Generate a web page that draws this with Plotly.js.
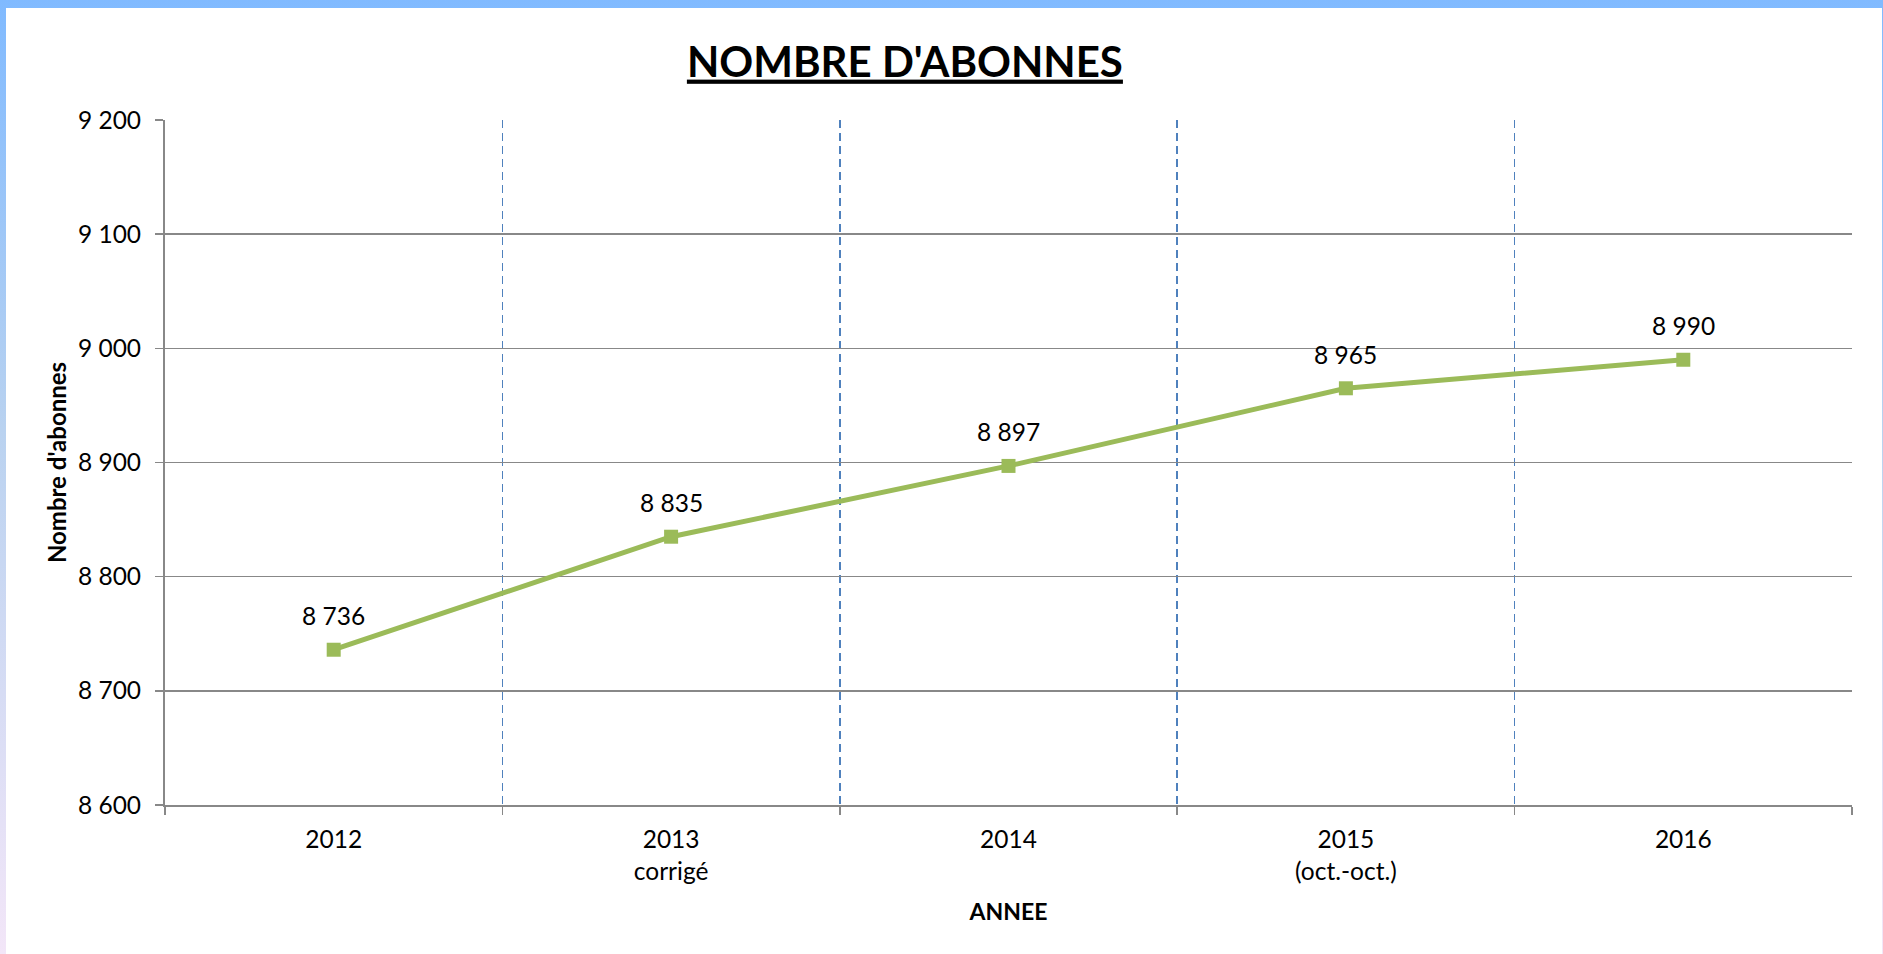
<!DOCTYPE html>
<html>
<head>
<meta charset="utf-8">
<script src="https://cdn.plot.ly/plotly-3.0.1.min.js"></script>
<style>
  html, body { margin: 0; padding: 0; width: 1883px; height: 954px; overflow: hidden;
    background: linear-gradient(to bottom, #80BAFF 0%, #B9D2F0 45%, #F3E6F8 100%); }
  #chart { position: absolute; left: 6px; top: 8px; width: 1876px; height: 946px; background: #fff; }
</style>
</head>
<body>
<div id="chart"></div>
<script>
const categories = ["2012", "2013<br>corrigé", "2014", "2015<br>(oct.-oct.)", "2016"];
const subscribers = [8736, 8835, 8897, 8965, 8990];
const yTickValues = [8600, 8700, 8800, 8900, 9000, 9100, 9200];

function fmt(v) { return String(v).replace(/\B(?=(\d{3})+(?!\d))/g, " "); }

const FONT = "Lato, 'Open Sans', sans-serif";
const TS = 24.5;

const trace = {
  type: "scatter",
  mode: "lines+markers",
  x: categories,
  y: subscribers,
  line: { color: "#9BBB59", width: 5 },
  marker: { symbol: "square", size: 14, color: "#9BBB59" },
  hoverinfo: "x+y"
};

const annotations = categories.map((c, i) => ({
  x: i, y: subscribers[i], xref: "x", yref: "y",
  text: fmt(subscribers[i]), showarrow: false,
  yshift: 34, font: { family: FONT, size: TS, color: "#000" }
}));

const layout = {
  width: 1876, height: 946,
  margin: { l: 159, r: 30, t: 112, b: 149 },
  paper_bgcolor: "#ffffff",
  plot_bgcolor: "#ffffff",
  font: { family: FONT, size: TS, color: "#000" },
  showlegend: false,
  title: {
    text: "<b>NOMBRE D'ABONNES</b>",
    font: { family: FONT, size: 42, color: "#000", lineposition: "under" },
    x: 0.4386, xanchor: "center", xref: "paper",
    y: 0.943, yanchor: "middle", yref: "container"
  },
  xaxis: {
    type: "category",
    range: [-0.5, 4.5],
    tickson: "boundaries",
    ticks: "outside", ticklen: 8, tickwidth: 1.5, tickcolor: "#888888",
    ticklabelstandoff: 12,
    showgrid: true, gridcolor: "#4F81BD", gridwidth: 1.5, griddash: "8px,5px",
    showline: true, linecolor: "#888888", linewidth: 2,
    tickfont: { family: FONT, size: TS, color: "#000" },
    title: { text: "<b>ANNEE</b>", font: { family: FONT, size: 23, color: "#000" }, standoff: 20 },
    fixedrange: true
  },
  yaxis: {
    range: [8600, 9200],
    tickvals: yTickValues,
    ticktext: yTickValues.map(fmt),
    ticks: "outside", ticklen: 8, tickwidth: 1.5, tickcolor: "#888888",
    ticklabelstandoff: 9,
    showgrid: true, gridcolor: "#888888", gridwidth: 1.5,
    showline: true, linecolor: "#888888", linewidth: 2,
    zeroline: false,
    tickfont: { family: FONT, size: TS, color: "#000" },
    title: { text: "<b>Nombre d'abonnes</b>", font: { family: FONT, size: 24, color: "#000" }, standoff: 5 },
    fixedrange: true
  },
  annotations: annotations
};

Plotly.newPlot("chart", [trace], layout, { displayModeBar: false, staticPlot: true });
</script>
</body>
</html>
